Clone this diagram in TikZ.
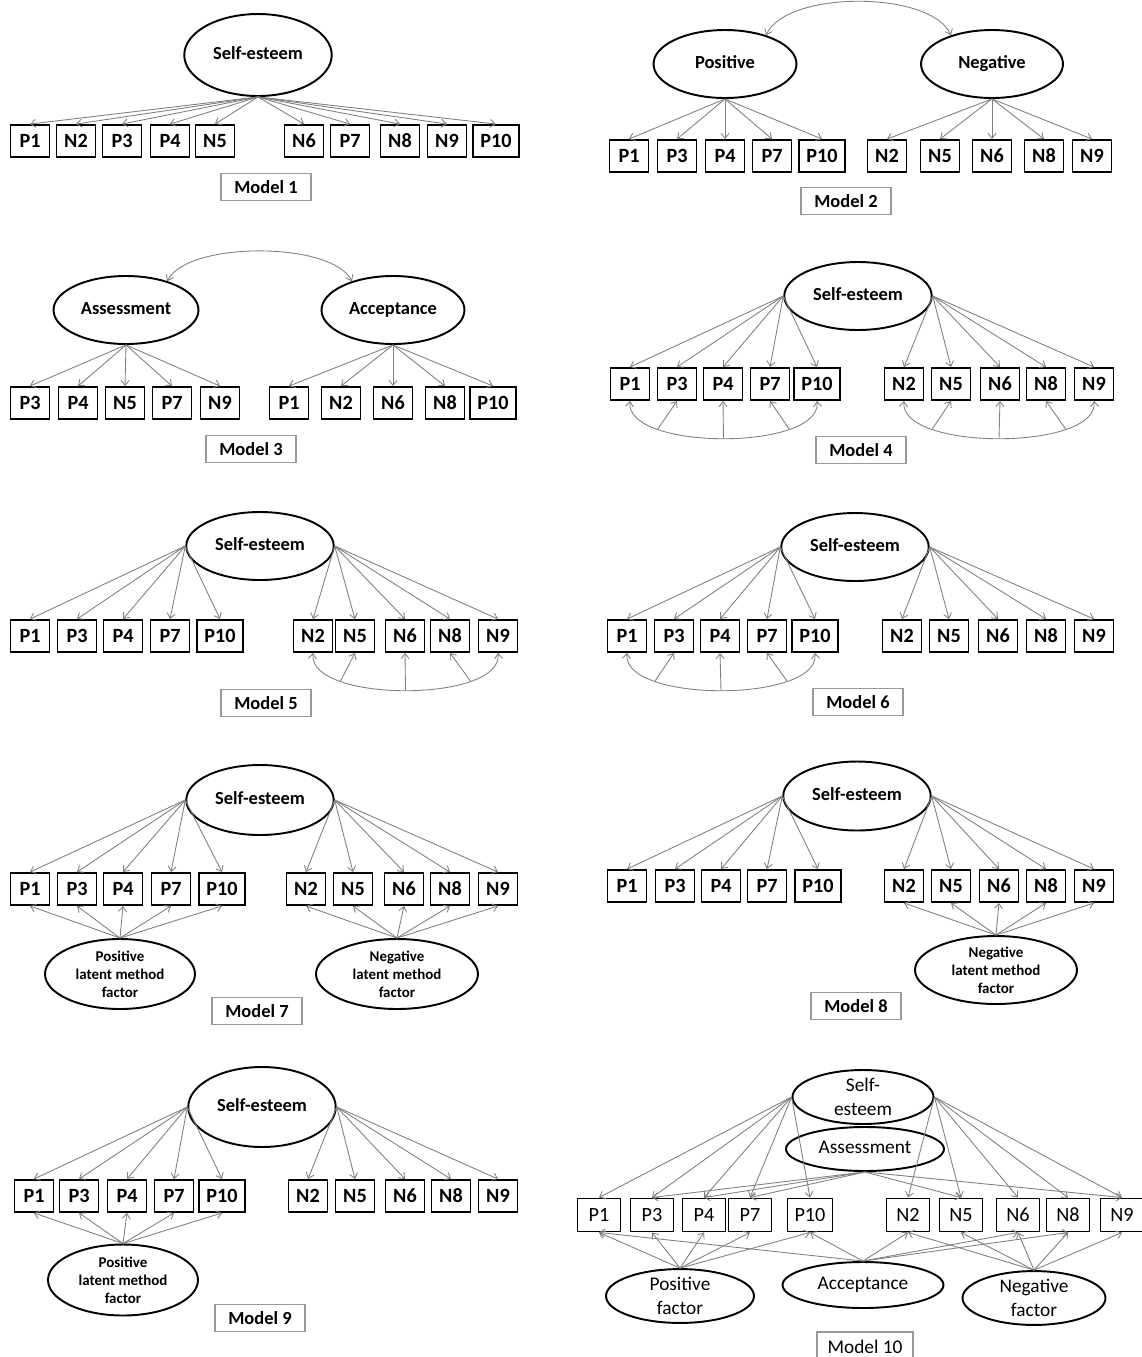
\documentclass[tikz,border=0pt]{standalone}
\usepackage{fontspec}
\setmainfont{Carlito}
\usetikzlibrary{shapes.geometric, arrows.meta}

\begin{document}
\begin{tikzpicture}[
    x=0.02cm, y=-0.02cm,
    % Style definitions
    item/.style={rectangle, draw=black, line width=1.1pt, minimum width=0.78cm, minimum height=0.64cm,
                 inner xsep=4pt, font=\fontsize{11.5}{13}\selectfont\bfseries},
    oval/.style={ellipse, draw=black, line width=1.1pt, inner sep=0pt, minimum width=2.95cm,
                 minimum height=1.36cm, align=center},
    latent/.style={oval, text height=1.6ex, text depth=0.45ex, font=\fontsize{10.5}{12}\selectfont\bfseries},
    method/.style={oval, minimum width=3cm, minimum height=1.4cm,
                   font=\fontsize{8.5}{10.3}\selectfont\bfseries},
    modelbox/.style={rectangle, draw=black!40, line width=0.6pt, minimum width=1.8cm,
                     minimum height=0.55cm, font=\fontsize{10.5}{12}\selectfont\bfseries},
    load/.style={draw=black!50, line width=0.5pt, -{Straight Barb[length=1mm, width=1.6mm]}},
    cov/.style={load, {Straight Barb[length=1mm, width=1.6mm]}-{Straight Barb[length=1mm, width=1.6mm]}},
    item10/.style={item, minimum width=0.86cm, minimum height=0.66cm, font=\fontsize{11.5}{13}\selectfont},
    latent10/.style={oval, font=\fontsize{11}{14}\selectfont},
]
\useasboundingbox (0,0) rectangle (1142,1357);

% Model 1
\node[latent, minimum height=1.64cm] (m1se) at (258,55) {Self-esteem};
\foreach \nm/\xx in {P1/30, N2/76, P3/122, P4/170, N5/215, N6/304, P7/350, N8/400, N9/447, P10/496}
  \node[item] (m1\nm) at (\xx,141) {\nm};
\foreach \nm in {P1, N2, P3, P4, N5, N6, P7, N8, N9, P10}
  \draw[load] (m1se.south) -- (m1\nm.north);
\node[modelbox] (m1lab) at (266,187) {Model 1};

% Model 2
\node[latent, minimum width=2.86cm] (m2pos) at (725,64) {Positive};
\node[latent, minimum width=2.84cm] (m2neg) at (992,64) {Negative};
\draw[cov] (m2pos.35) .. controls +(20,-45) and +(-20,-45) .. (m2neg.145);
\foreach \nm/\xx in {P1/629, P3/677, P4/725, P7/772, P10/822, N2/887, N5/940, N6/992, N8/1044, N9/1092}
  \node[item] (m2\nm) at (\xx,156) {\nm};
\foreach \nm in {P1, P3, P4, P7, P10}
  \draw[load] (m2pos.south) -- (m2\nm.north);
\foreach \nm in {N2, N5, N6, N8, N9}
  \draw[load] (m2neg.south) -- (m2\nm.north);
\node[modelbox] (m2lab) at (846,201) {Model 2};

% Model 3
\node[latent, minimum width=2.9cm] (m3ass) at (126,310) {Assessment};
\node[latent, minimum width=2.86cm] (m3acc) at (393,310) {Acceptance};
\draw[cov] (m3ass.35) .. controls +(20,-40) and +(-20,-40) .. (m3acc.145);
\foreach \nm/\xx in {P3/30, P4/78, N5/125, P7/172, N9/220, P1/289, N2/341, N6/393, N8/445, P10/493}
  \node[item] (m3\nm) at (\xx,403) {\nm};
\foreach \nm in {P3, P4, N5, P7, N9}
  \draw[load] (m3ass.south) -- (m3\nm.north);
\foreach \nm in {P1, N2, N6, N8, P10}
  \draw[load] (m3acc.south) -- (m3\nm.north);
\node[modelbox] (m3lab) at (251,449) {Model 3};

% Model 4
\node[latent] (m4se) at (858,296) {Self-esteem};
\foreach \nm/\xx in {P1/630, P3/677, P4/723, P7/770, P10/817, N2/904, N5/951, N6/1000, N8/1046, N9/1094}
  \node[item] (m4\nm) at (\xx,384) {\nm};
\foreach \nm in {P1, P3, P4, P7, P10}
  \draw[load] (m4se.west) -- (m4\nm.north);
\foreach \nm in {N2, N5, N6, N8, N9}
  \draw[load] (m4se.east) -- (m4\nm.north);
\draw[cov] (m4P1.south) .. controls +(-5,50) and +(5,50) .. (m4P10.south)
  coordinate[pos=0.25] (m4c1) coordinate[pos=0.5] (m4c2) coordinate[pos=0.75] (m4c3);
\draw[load] (m4c1) -- (m4P3.south);
\draw[load] (m4c2) -- (m4P4.south);
\draw[load] (m4c3) -- (m4P7.south);
\draw[cov] (m4N2.south) .. controls +(-5,50) and +(5,50) .. (m4N9.south)
  coordinate[pos=0.25] (m4d1) coordinate[pos=0.5] (m4d2) coordinate[pos=0.75] (m4d3);
\draw[load] (m4d1) -- (m4N5.south);
\draw[load] (m4d2) -- (m4N6.south);
\draw[load] (m4d3) -- (m4N8.south);
\node[modelbox] (m4lab) at (861,450) {Model 4};

% Model 5
\node[latent] (m5se) at (260,546) {Self-esteem};
\foreach \nm/\xx in {P1/30, P3/77, P4/123, P7/170, P10/220, N2/313, N5/355, N6/405, N8/450, N9/498}
  \node[item] (m5\nm) at (\xx,636) {\nm};
\foreach \nm in {P1, P3, P4, P7, P10}
  \draw[load] (m5se.west) -- (m5\nm.north);
\foreach \nm in {N2, N5, N6, N8, N9}
  \draw[load] (m5se.east) -- (m5\nm.north);
\draw[cov] (m5N2.south) .. controls +(-5,50) and +(5,50) .. (m5N9.south)
  coordinate[pos=0.25] (m5d1) coordinate[pos=0.5] (m5d2) coordinate[pos=0.75] (m5d3);
\draw[load] (m5d1) -- (m5N5.south);
\draw[load] (m5d2) -- (m5N6.south);
\draw[load] (m5d3) -- (m5N8.south);
\node[modelbox] (m5lab) at (266,703) {Model 5};

% Model 6
\node[latent] (m6se) at (855,547) {Self-esteem};
\foreach \nm/\xx in {P1/627, P3/674, P4/720, P7/767, P10/815, N2/902, N5/949, N6/998, N8/1046, N9/1094}
  \node[item] (m6\nm) at (\xx,636) {\nm};
\foreach \nm in {P1, P3, P4, P7, P10}
  \draw[load] (m6se.west) -- (m6\nm.north);
\foreach \nm in {N2, N5, N6, N8, N9}
  \draw[load] (m6se.east) -- (m6\nm.north);
\draw[cov] (m6P1.south) .. controls +(-5,50) and +(5,50) .. (m6P10.south)
  coordinate[pos=0.25] (m6c1) coordinate[pos=0.5] (m6c2) coordinate[pos=0.75] (m6c3);
\draw[load] (m6c1) -- (m6P3.south);
\draw[load] (m6c2) -- (m6P4.south);
\draw[load] (m6c3) -- (m6P7.south);
\node[modelbox] (m6lab) at (858,702) {Model 6};

% Model 7
\node[latent, minimum height=1.4cm] (m7se) at (260,800) {Self-esteem};
\foreach \nm/\xx in {P1/30, P3/77, P4/123, P7/171, P10/222, N2/306, N5/353, N6/404, N8/450, N9/498}
  \node[item] (m7\nm) at (\xx,889) {\nm};
\foreach \nm in {P1, P3, P4, P7, P10}
  \draw[load] (m7se.west) -- (m7\nm.north);
\foreach \nm in {N2, N5, N6, N8, N9}
  \draw[load] (m7se.east) -- (m7\nm.north);
\node[method] (m7plm) at (120,974) {Positive\\latent method\\factor};
\node[method, minimum width=3.24cm] (m7nlm) at (397,974) {Negative\\latent method\\factor};
\foreach \nm in {P1, P3, P4, P7, P10}
  \draw[load] (m7plm.north) -- (m7\nm.south);
\foreach \nm in {N2, N5, N6, N8, N9}
  \draw[load] (m7nlm.north) -- (m7\nm.south);
\node[modelbox] (m7lab) at (257,1011) {Model 7};

% Model 8
\node[latent, minimum height=1.38cm] (m8se) at (857,796) {Self-esteem};
\foreach \nm/\xx in {P1/627, P3/675, P4/721, P7/767, P10/818, N2/904, N5/951, N6/999, N8/1046, N9/1094}
  \node[item] (m8\nm) at (\xx,886) {\nm};
\foreach \nm in {P1, P3, P4, P7, P10}
  \draw[load] (m8se.west) -- (m8\nm.north);
\foreach \nm in {N2, N5, N6, N8, N9}
  \draw[load] (m8se.east) -- (m8\nm.north);
\node[method, minimum width=3.24cm, minimum height=1.36cm] (m8nlm) at (996,970) {Negative\\latent method\\factor};
\foreach \nm in {N2, N5, N6, N8, N9}
  \draw[load] (m8nlm.north) -- (m8\nm.south);
\node[modelbox] (m8lab) at (856,1006) {Model 8};

% Model 9
\node[latent, minimum height=1.6cm] (m9se) at (262,1107) {Self-esteem};
\foreach \nm/\xx in {P1/34, P3/79, P4/127, P7/174, P10/222, N2/308, N5/355, N6/405, N8/451, N9/498}
  \node[item] (m9\nm) at (\xx,1196) {\nm};
\foreach \nm in {P1, P3, P4, P7, P10}
  \draw[load] (m9se.west) -- (m9\nm.north);
\foreach \nm in {N2, N5, N6, N8, N9}
  \draw[load] (m9se.east) -- (m9\nm.north);
\node[method, minimum height=1.42cm] (m9plm) at (123,1280) {Positive\\latent method\\factor};
\foreach \nm in {P1, P3, P4, P7, P10}
  \draw[load] (m9plm.north) -- (m9\nm.south);
\node[modelbox] (m9lab) at (260,1318) {Model 9};

% Model 10
\node[latent10, minimum width=2.82cm, minimum height=1.08cm] (m10se) at (863,1097) {Self-\\esteem};
\node[latent10, minimum width=3.16cm, minimum height=0.88cm, text height=1.6ex, text depth=0.45ex] (m10ass) at (865,1149) {Assessment};
\foreach \nm/\xx in {P1/599, P3/652, P4/704, P7/750, P10/810, N2/908, N5/961, N6/1018, N8/1068, N9/1122}
  \node[item10] (m10\nm) at (\xx,1215) {\nm};
\node[latent10, minimum width=2.96cm, minimum height=1cm] (m10pf) at (680,1296) {Positive\\factor};
\node[latent10, minimum width=3.22cm, minimum height=0.92cm, text height=1.6ex, text depth=0.45ex] (m10acc) at (863,1285) {Acceptance};
\node[latent10, minimum width=2.86cm, minimum height=0.96cm] (m10nf) at (1034,1298) {Negative\\factor};
\foreach \nm in {P1, P3, P4, P7, P10}
  \draw[load] (m10se.west) -- (m10\nm.north);
\foreach \nm in {N2, N5, N6, N8, N9}
  \draw[load] (m10se.east) -- (m10\nm.north);
\foreach \nm in {P3, P4, P7, N5, N9}
  \draw[load] (m10ass.south) -- (m10\nm.north);
\foreach \nm in {P1, P10, N2, N6, N8}
  \draw[load] (m10acc.north) -- (m10\nm.south);
\foreach \nm in {P1, P3, P4, P7, P10}
  \draw[load] (m10pf.north) -- (m10\nm.south);
\foreach \nm in {N2, N5, N6, N8, N9}
  \draw[load] (m10nf.north) -- (m10\nm.south);
\node[modelbox, font=\fontsize{11}{13}\selectfont, minimum width=1.92cm, minimum height=0.6cm] (m10lab) at (865,1347) {Model 10};

\end{tikzpicture}
\end{document}
